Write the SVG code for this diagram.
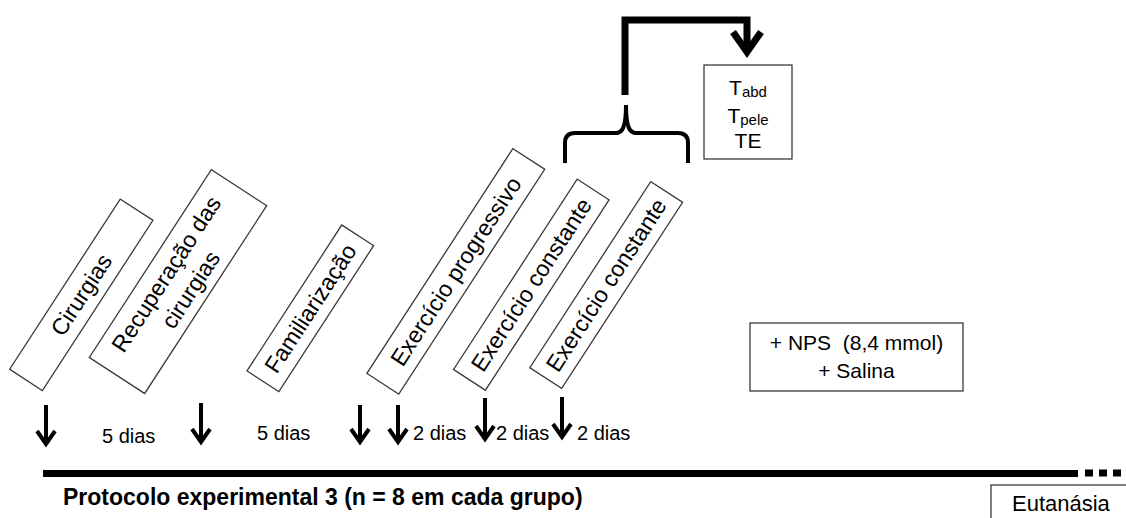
<svg xmlns="http://www.w3.org/2000/svg" width="1126" height="518" viewBox="0 0 1126 518">
<style>
  text { font-family: "Liberation Sans", Arial, sans-serif; fill: #000; }
  .box { fill: #fff; stroke: #3a3a3a; stroke-width: 1.3; }
  .rt { font-size: 23px; text-anchor: middle; }
  .lbl { font-size: 20px; }
  .mid { text-anchor: middle; }
  .arr { fill: none; stroke: #000; stroke-width: 4; stroke-linejoin: miter; stroke-linecap: butt; }
  .thick { fill: none; stroke: #000; stroke-width: 7; stroke-linejoin: miter; }
  .brace { fill: none; stroke: #000; stroke-width: 4; }
</style>
<rect width="1126" height="518" fill="#fff"/>

<g id="connectors">
  <!-- timeline -->
  <line x1="43" y1="473.5" x2="1078" y2="473.5" stroke="#000" stroke-width="7"/>
  <line x1="1085" y1="473" x2="1122" y2="473" stroke="#000" stroke-width="7" stroke-dasharray="8 6"/>
  <!-- downward arrows -->
  <path class="arr" d="M46,405 V443 M37,431 L46,444 L55,431"/>
  <path class="arr" d="M201,403 V441 M192,429 L201,442 L210,429"/>
  <path class="arr" d="M360,405 V441 M351,429 L360,442 L369,429"/>
  <path class="arr" d="M398,405 V441 M389,429 L398,442 L407,429"/>
  <path class="arr" d="M485,398 V438 M476,426 L485,439 L494,426"/>
  <path class="arr" d="M562,397 V436 M553,424 L562,437 L571,424"/>
  <!-- curly brace -->
  <path class="brace" d="M565,163 V143 Q565,133 575,133 H616 C622,133 626,128 626,105 C626,128 630,133 636,133 H678 Q688,133 688,143 V163"/>
  <!-- bracket connector to temperature box -->
  <path class="thick" d="M625,95 V20 H747 V50"/>
  <path class="thick" d="M733,32 L747,52 L761,32"/>
</g>

<g id="n-cirurgias" transform="translate(81.3,294.8) rotate(-57)">
  <rect class="box" x="-101.5" y="-19.5" width="203" height="39"/>
  <text class="rt" x="0" y="8">Cirurgias</text>
</g>
<g id="n-recuperacao" transform="translate(178,281.6) rotate(-57)">
  <rect class="box" x="-112" y="-33" width="224" height="66"/>
  <text class="rt" x="0" y="-6">Recuperação das</text>
  <text class="rt" x="0" y="23">cirurgias</text>
</g>
<g id="n-familiarizacao" transform="translate(310.3,308.3) rotate(-57)">
  <rect class="box" x="-87" y="-19" width="174" height="38"/>
  <text class="rt" x="0" y="8">Familiarização</text>
</g>
<g id="n-progressivo" transform="translate(455.8,271.3) rotate(-57)">
  <rect class="box" x="-134" y="-19" width="268" height="38"/>
  <text class="rt" x="0" y="8">Exercício progressivo</text>
</g>
<g id="n-constante1" transform="translate(531.3,284.7) rotate(-57)">
  <rect class="box" x="-113.5" y="-19" width="227" height="38"/>
  <text class="rt" x="0" y="8">Exercício constante</text>
</g>
<g id="n-constante2" transform="translate(606.2,285) rotate(-57)">
  <rect class="box" x="-111" y="-19" width="222" height="38"/>
  <text class="rt" x="0" y="8">Exercício constante</text>
</g>

<g id="n-temperaturas">
  <rect class="box" x="704" y="65" width="88" height="94"/>
  <text class="mid" x="748" y="95" font-size="21">T<tspan font-size="15" dy="2">abd</tspan></text>
  <text class="mid" x="748" y="123" font-size="21">T<tspan font-size="15" dy="2">pele</tspan></text>
  <text class="mid" x="748" y="148" font-size="21">TE</text>
</g>

<g id="n-nps">
  <rect class="box" x="750" y="323" width="213" height="68"/>
  <text class="mid" x="856.5" y="350" font-size="21">+ NPS&#160; (8,4 mmol)</text>
  <text class="mid" x="856.5" y="378" font-size="21">+ Salina</text>
</g>

<g id="n-eutanasia">
  <rect class="box" x="991" y="485" width="140" height="40"/>
  <text x="1012" y="511" font-size="22">Eutanásia</text>
</g>

<g id="labels">
  <text class="lbl" x="102" y="443">5 dias</text>
  <text class="lbl" x="257" y="440">5 dias</text>
  <text class="lbl" x="413" y="440">2 dias</text>
  <text class="lbl" x="496" y="440">2 dias</text>
  <text class="lbl" x="577" y="440">2 dias</text>
  <text x="63" y="505" font-size="23" font-weight="bold">Protocolo experimental 3 (n = 8 em cada grupo)</text>
</g>
</svg>
